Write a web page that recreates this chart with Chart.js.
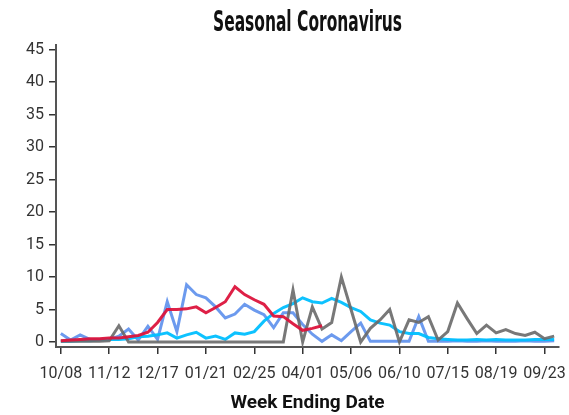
<!DOCTYPE html>
<html>
<head>
<meta charset="utf-8">
<script src="https://cdn.jsdelivr.net/npm/chart.js@4"></script>
<style>
  html, body { margin: 0; padding: 0; background: #fff; }
  #wrap { width: 569px; height: 415px; }
</style>
</head>
<body>
<div id="wrap"><canvas id="chart" width="569" height="415"></canvas></div>
<script>
const weeks = ['10/08','10/15','10/22','10/29','11/05','11/12','11/19','11/26','12/03','12/10',
  '12/17','12/24','12/31','01/07','01/14','01/21','01/28','02/04','02/11','02/18',
  '02/25','03/04','03/11','03/18','03/25','04/01','04/08','04/15','04/22','04/29',
  '05/06','05/13','05/20','05/27','06/03','06/10','06/17','06/24','07/01','07/08',
  '07/15','07/22','07/29','08/05','08/12','08/19','08/26','09/02','09/09','09/16',
  '09/23','09/30'];
const tickLabels = ['10/08','11/12','12/17','01/21','02/25','04/01','05/06','06/10','07/15','08/19','09/23'];
const yTicks = [0, 5, 10, 15, 20, 25, 30, 35, 40, 45];

const redVals = [0.2,0.3,0.4,0.5,0.5,0.6,0.6,0.8,1.0,1.5,3.0,5.0,5.0,5.1,5.4,4.5,5.3,6.2,8.5,7.3,
  6.5,5.8,4.0,3.9,2.8,1.8,2.1,2.5];
const grayVals = [0.1,0.1,0.1,0.1,0.1,0.2,2.5,0,0,0,0,0,0,0,0,0,0,0,0,0,
  0,0,0,0,8.0,0,5.4,2.0,3.0,10.0,5.0,0,2.1,3.4,5.0,0,3.4,3.0,3.9,0.3,
  1.6,6.0,3.6,1.3,2.6,1.4,1.9,1.3,1.0,1.5,0.5,0.9];
const skyVals = [0.1,0.1,0.2,0.2,0.3,0.4,0.4,0.5,0.8,0.9,1.1,1.4,0.6,1.1,1.5,0.6,0.9,0.4,1.4,1.2,
  1.6,3.2,4.4,5.3,5.9,6.8,6.2,6.0,6.7,6.1,5.3,4.7,3.4,2.9,2.6,1.6,1.3,1.3,0.7,0.5,
  0.4,0.3,0.3,0.4,0.3,0.4,0.3,0.3,0.3,0.4,0.4,0.4];
const blueVals = [1.3,0.3,1.1,0.4,0.4,0.4,0.9,2.0,0.3,2.4,0.4,6.2,1.6,8.8,7.3,6.8,5.4,3.7,4.3,5.8,
  4.9,4.2,2.2,4.5,4.5,2.7,1.2,0.1,1.1,0.2,1.6,2.9,0.1,0.1,0.1,0.1,0.1,3.9,0.1,0.1,
  0.1,0.2,0.1,0.1,0.2,0.1,0.1,0.1,0.2,0.1,0.1,0.2];

const titlePlugin = {
  id: 'condensedTitle',
  afterDraw(chart) {
    const { ctx, chartArea } = chart;
    const text = 'Seasonal Coronavirus';
    ctx.save();
    ctx.font = 'bold 28px "Liberation Sans Narrow", "DejaVu Sans Condensed", sans-serif';
    const w = ctx.measureText(text).width;
    const sx = 189 / w;
    ctx.translate((chartArea.left + chartArea.right) / 2, 31);
    ctx.scale(sx, 1);
    ctx.fillStyle = '#111';
    ctx.textAlign = 'center';
    ctx.textBaseline = 'alphabetic';
    ctx.fillText(text, 0, 0);
    ctx.restore();
  }
};

function line(data, color) {
  return {
    data,
    borderColor: color,
    borderWidth: 3,
    pointRadius: 0,
    tension: 0,
    fill: false
  };
}

const tickFont = { family: 'Roboto', size: 16 };

new Chart(document.getElementById('chart'), {
  type: 'line',
  data: {
    labels: weeks,
    datasets: [
      line(redVals, 'rgba(220,20,60,0.95)'),
      line(grayVals, 'rgba(105,105,105,0.9)'),
      line(skyVals, 'rgba(0,191,255,0.95)'),
      line(blueVals, 'rgba(100,149,237,0.95)')
    ]
  },
  options: {
    responsive: false,
    animation: false,
    layout: { padding: { top: 45, right: 10, left: 0, bottom: 0 } },
    plugins: { legend: { display: false }, title: { display: false }, tooltip: { enabled: false } },
    scales: {
      x: {
        type: 'category',
        offset: true,
        grid: { offset: false, drawOnChartArea: false, drawTicks: true, tickLength: 7, color: '#333', lineWidth: 1.5 },
        border: { display: true, color: '#555', width: 2 },
        afterBuildTicks: s => { s.ticks = s.ticks.filter(t => tickLabels.includes(weeks[t.value])); },
        afterFit: s => { s.height = 68; s.paddingLeft = 0; s.paddingRight = 0; },
        ticks: { autoSkip: false, maxRotation: 0, color: '#333', font: tickFont, padding: 10 },
        title: {
          display: true,
          text: 'Week Ending Date',
          color: '#111',
          font: { family: 'Roboto', size: 19, weight: 'bold' },
          padding: { top: 0, bottom: 0 }
        }
      },
      y: {
        min: -0.77,
        max: 45.7,
        grid: { drawOnChartArea: false, drawTicks: true, tickLength: 7, color: '#333', lineWidth: 1.5 },
        border: { display: true, color: '#555', width: 2 },
        afterBuildTicks: s => { s.ticks = yTicks.map(v => ({ value: v })); },
        afterFit: s => { s.width = 56; s.paddingTop = 0; s.paddingBottom = 0; },
        ticks: { color: '#333', font: tickFont, padding: 5 }
      }
    }
  },
  plugins: [titlePlugin]
});
</script>
</body>
</html>
